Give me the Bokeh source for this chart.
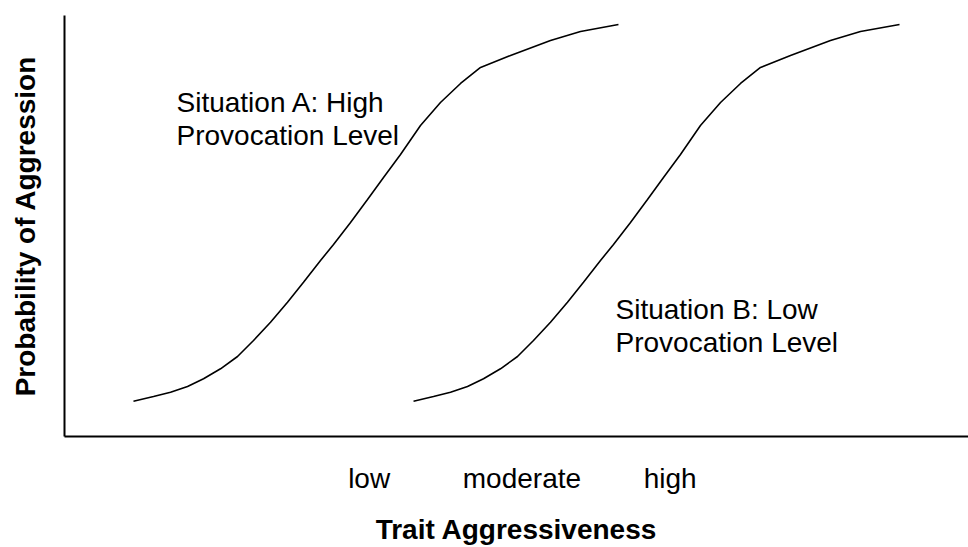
from bokeh.plotting import figure
from bokeh.models import Range1d, FixedTicker
from bokeh.core.properties import value
from bokeh.embed import file_html
from bokeh.resources import INLINE

# Situation A (high provocation): trait aggressiveness vs probability of aggression
a_x = [7.63, 9.85, 11.73, 13.61, 15.38, 17.26, 19.14, 20.91, 22.79, 24.67, 26.44, 28.32, 29.76,
       31.64, 33.52, 35.29, 37.17, 39.38, 41.59, 43.81, 46.02, 49.34, 53.76, 57.08, 61.28]
a_y = [8.38, 9.50, 10.52, 11.88, 13.71, 16.08, 19.00, 22.80, 27.15, 31.90, 36.65, 41.81, 45.61,
       50.83, 56.29, 61.52, 66.98, 73.87, 79.33, 83.85, 87.65, 90.50, 94.06, 96.20, 97.86]

# Situation B (low provocation)
b_x = [38.61, 40.82, 42.70, 44.58, 46.35, 48.23, 50.11, 51.88, 53.76, 55.64, 57.41, 59.29, 60.73,
       62.61, 64.49, 66.26, 68.14, 70.35, 72.57, 74.78, 76.99, 80.31, 84.73, 88.05, 92.37]
b_y = [8.38, 9.50, 10.52, 11.88, 13.71, 16.08, 19.00, 22.80, 27.15, 31.90, 36.65, 41.81, 45.61,
       50.83, 56.29, 61.52, 66.98, 73.87, 79.33, 83.85, 87.65, 90.50, 94.06, 96.20, 97.86]

tick_pos = [33.7, 50.6, 67.0]
tick_labels = ["low", "moderate", "high"]

label_a = ["Situation A: High", "Provocation Level"]
label_b = ["Situation B: Low", "Provocation Level"]

FONT = "Liberation Sans"
FS = "28px"

p = figure(width=968, height=547, x_range=Range1d(0, 100), y_range=Range1d(0, 100),
           output_backend="svg", toolbar_location=None,
           min_border_left=64, min_border_right=0, min_border_top=15, min_border_bottom=111)
p.grid.visible = False
p.outline_line_color = None
p.background_fill_color = "white"
p.border_fill_color = "white"

p.line(a_x, a_y, line_color="black", line_width=1.6)
p.line(b_x, b_y, line_color="black", line_width=1.6)

# annotation text
p.text(x=[12.39, 12.39], y=[79.33, 71.5], text=label_a, text_font=value(FONT), text_font_size=FS,
       text_color="black", text_align="left", text_baseline="alphabetic")
p.text(x=[60.95, 60.95], y=[30.17, 22.33], text=label_b, text_font=value(FONT), text_font_size=FS,
       text_color="black", text_align="left", text_baseline="alphabetic")

xa = p.xaxis[0]
xa.ticker = FixedTicker(ticks=tick_pos)
xa.major_label_overrides = {t: l for t, l in zip(tick_pos, tick_labels)}
xa.major_tick_line_color = None
xa.minor_tick_line_color = None
xa.major_tick_out = 0
xa.major_tick_in = 0
xa.major_label_standoff = 26
xa.major_label_text_font = FONT
xa.major_label_text_font_size = FS
xa.major_label_text_color = "black"
xa.axis_line_color = "black"
xa.axis_line_width = 2
xa.axis_label = "Trait Aggressiveness"
xa.axis_label_text_font = FONT
xa.axis_label_text_font_size = "28px"
xa.axis_label_text_font_style = "bold"
xa.axis_label_text_color = "black"
xa.axis_label_standoff = 17

ya = p.yaxis[0]
ya.ticker = FixedTicker(ticks=[])
ya.major_tick_line_color = None
ya.minor_tick_line_color = None
ya.major_tick_out = 0
ya.major_tick_in = 0
ya.major_label_standoff = 0
ya.axis_line_color = "black"
ya.axis_line_width = 2
ya.axis_label = "Probability of Aggression"
ya.axis_label_text_font = FONT
ya.axis_label_text_font_size = "28px"
ya.axis_label_text_font_style = "bold"
ya.axis_label_text_color = "black"
ya.axis_label_standoff = 24

open("out.html", "w").write(file_html(p, INLINE))
